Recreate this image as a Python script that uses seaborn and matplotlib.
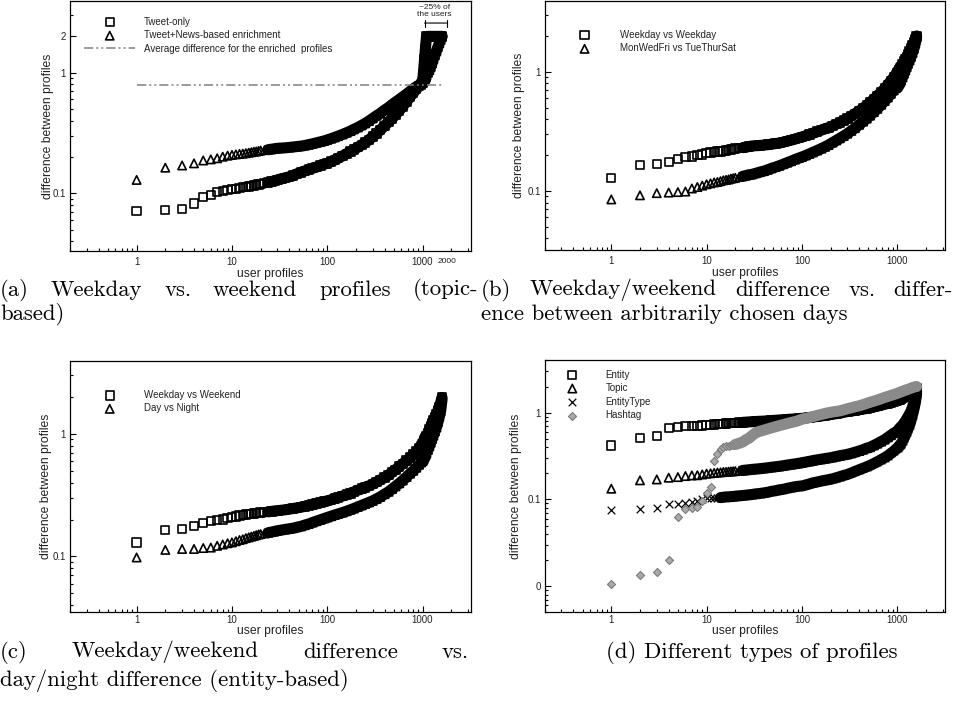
import matplotlib
matplotlib.use("Agg")
import matplotlib.pyplot as plt
from matplotlib.ticker import LogLocator, FixedLocator, FixedFormatter, NullFormatter
import seaborn as sns

# user rank (x) shared by every series
RANKS = [1, 2, 3, 4, 5, 6, 7, 8, 9, 10,
         11, 12, 13, 14, 15, 16, 17, 18, 19, 20,
         22, 24, 26, 28, 30, 33, 36, 40, 44, 48,
         53, 58, 64, 70, 77, 85, 93, 100, 110, 120,
         130, 145, 160, 175, 190, 210, 230, 250, 275, 300,
         330, 360, 400, 440, 480, 520, 570, 620, 680, 740,
         800, 860, 920, 970, 1000, 1010, 1020, 1030, 1040, 1050,
         1060, 1070, 1080, 1090, 1100, 1140, 1180, 1220, 1260, 1300,
         1350, 1400, 1450, 1500, 1550, 1600]

# (a) topic-based weekday vs weekend
TWEET_ONLY = [0.071, 0.073, 0.074, 0.082, 0.093, 0.097, 0.102, 0.105, 0.107, 0.108,
              0.109, 0.110, 0.112, 0.113, 0.114, 0.115, 0.116, 0.117, 0.118, 0.119,
              0.121, 0.123, 0.125, 0.127, 0.129, 0.132, 0.134, 0.137, 0.140, 0.145,
              0.149, 0.153, 0.157, 0.161, 0.165, 0.170, 0.174, 0.177, 0.183, 0.189,
              0.195, 0.204, 0.213, 0.222, 0.230, 0.241, 0.252, 0.263, 0.278, 0.295,
              0.314, 0.335, 0.362, 0.390, 0.418, 0.447, 0.485, 0.525, 0.577, 0.630,
              0.680, 0.730, 0.775, 0.800, 0.830, 0.90, 0.98, 1.08, 1.18, 1.30,
              1.42, 1.56, 1.70, 1.85, 2.0, 2.0, 2.0, 2.0, 2.0, 2.0,
              2.0, 2.0, 2.0, 2.0, 2.0, 2.0]
ENRICHED = [0.129, 0.163, 0.170, 0.177, 0.187, 0.191, 0.195, 0.201, 0.205, 0.208,
            0.210, 0.212, 0.213, 0.215, 0.217, 0.219, 0.221, 0.222, 0.224, 0.226,
            0.228, 0.230, 0.232, 0.234, 0.236, 0.237, 0.238, 0.240, 0.242, 0.244,
            0.246, 0.249, 0.253, 0.257, 0.262, 0.267, 0.272, 0.277, 0.284, 0.291,
            0.298, 0.308, 0.318, 0.328, 0.339, 0.352, 0.366, 0.380, 0.398, 0.418,
            0.440, 0.460, 0.490, 0.515, 0.545, 0.570, 0.600, 0.630, 0.665, 0.700,
            0.735, 0.765, 0.790, 0.810, 0.830, 0.840, 0.850, 0.860, 0.870, 0.880,
            0.890, 0.900, 0.915, 0.930, 0.950, 1.00, 1.05, 1.12, 1.20, 1.30,
            1.40, 1.52, 1.64, 1.76, 1.88, 2.0]
AVG_ENRICHED = 0.79
BRACKET_SPAN = [1050, 1790]

# (b) weekday/weekend vs arbitrary days
WEEKDAY_WEEKDAY = [0.129, 0.165, 0.169, 0.175, 0.185, 0.193, 0.195, 0.200, 0.202, 0.209,
                   0.210, 0.212, 0.214, 0.215, 0.217, 0.219, 0.221, 0.223, 0.225, 0.227,
                   0.229, 0.231, 0.234, 0.236, 0.239, 0.240, 0.241, 0.243, 0.245, 0.247,
                   0.250, 0.253, 0.257, 0.262, 0.267, 0.273, 0.279, 0.284, 0.291, 0.298,
                   0.305, 0.315, 0.324, 0.333, 0.340, 0.352, 0.364, 0.376, 0.390, 0.405,
                   0.425, 0.445, 0.470, 0.495, 0.525, 0.555, 0.590, 0.630, 0.675, 0.725,
                   0.780, 0.840, 0.900, 0.940, 0.970, 0.980, 0.990, 1.00, 1.02, 1.03,
                   1.04, 1.06, 1.07, 1.09, 1.10, 1.16, 1.22, 1.28, 1.34, 1.40,
                   1.48, 1.57, 1.66, 1.76, 1.87, 2.0]
MON_WED_FRI = [0.085, 0.092, 0.096, 0.097, 0.098, 0.099, 0.105, 0.108, 0.111, 0.114,
               0.116, 0.118, 0.119, 0.121, 0.123, 0.124, 0.125, 0.127, 0.128, 0.129,
               0.131, 0.133, 0.135, 0.137, 0.138, 0.141, 0.144, 0.147, 0.151, 0.155,
               0.159, 0.163, 0.168, 0.173, 0.178, 0.184, 0.189, 0.193, 0.199, 0.205,
               0.211, 0.219, 0.227, 0.235, 0.243, 0.255, 0.266, 0.277, 0.290, 0.303,
               0.320, 0.337, 0.360, 0.383, 0.406, 0.430, 0.460, 0.490, 0.530, 0.570,
               0.610, 0.655, 0.700, 0.730, 0.748, 0.760, 0.770, 0.780, 0.790, 0.800,
               0.810, 0.820, 0.830, 0.845, 0.855, 0.900, 0.970, 1.03, 1.10, 1.17,
               1.25, 1.34, 1.45, 1.57, 1.73, 1.95]

# (c) weekday/weekend vs day/night (entity-based)
WEEKDAY_WEEKEND = [0.130, 0.164, 0.167, 0.178, 0.187, 0.194, 0.198, 0.200, 0.205, 0.210,
                   0.212, 0.215, 0.217, 0.220, 0.222, 0.223, 0.224, 0.226, 0.227, 0.228,
                   0.230, 0.231, 0.233, 0.235, 0.236, 0.238, 0.240, 0.243, 0.246, 0.249,
                   0.252, 0.256, 0.260, 0.265, 0.270, 0.275, 0.280, 0.284, 0.290, 0.296,
                   0.302, 0.311, 0.319, 0.327, 0.336, 0.347, 0.357, 0.366, 0.377, 0.389,
                   0.405, 0.420, 0.440, 0.460, 0.487, 0.510, 0.540, 0.570, 0.605, 0.640,
                   0.680, 0.720, 0.765, 0.800, 0.820, 0.830, 0.845, 0.860, 0.870, 0.885,
                   0.900, 0.915, 0.930, 0.945, 0.960, 1.02, 1.09, 1.16, 1.22, 1.29,
                   1.37, 1.45, 1.55, 1.66, 1.80, 1.98]
DAY_NIGHT = [0.098, 0.113, 0.115, 0.115, 0.117, 0.118, 0.122, 0.125, 0.128, 0.130,
             0.133, 0.136, 0.138, 0.141, 0.143, 0.145, 0.147, 0.149, 0.151, 0.152,
             0.154, 0.156, 0.158, 0.160, 0.162, 0.164, 0.166, 0.168, 0.170, 0.173,
             0.176, 0.180, 0.184, 0.189, 0.194, 0.199, 0.204, 0.208, 0.213, 0.218,
             0.222, 0.228, 0.234, 0.240, 0.246, 0.254, 0.261, 0.268, 0.276, 0.284,
             0.295, 0.306, 0.322, 0.337, 0.355, 0.373, 0.395, 0.417, 0.445, 0.474,
             0.500, 0.530, 0.560, 0.585, 0.600, 0.610, 0.620, 0.630, 0.640, 0.650,
             0.660, 0.670, 0.680, 0.690, 0.700, 0.740, 0.795, 0.850, 0.910, 0.970,
             1.05, 1.13, 1.25, 1.38, 1.54, 1.90]

# (d) different profile types
ENTITY = [0.42, 0.515, 0.54, 0.67, 0.68, 0.70, 0.70, 0.705, 0.714, 0.72,
          0.725, 0.73, 0.735, 0.74, 0.746, 0.75, 0.755, 0.76, 0.763, 0.767,
          0.77, 0.774, 0.778, 0.783, 0.787, 0.792, 0.796, 0.80, 0.806, 0.812,
          0.818, 0.824, 0.83, 0.836, 0.842, 0.848, 0.854, 0.86, 0.87, 0.88,
          0.89, 0.905, 0.918, 0.93, 0.945, 0.96, 0.975, 0.99, 1.01, 1.03,
          1.045, 1.06, 1.08, 1.10, 1.12, 1.14, 1.165, 1.19, 1.22, 1.25,
          1.28, 1.31, 1.34, 1.37, 1.38, 1.39, 1.40, 1.40, 1.41, 1.42,
          1.42, 1.43, 1.44, 1.44, 1.45, 1.48, 1.51, 1.54, 1.57, 1.60,
          1.64, 1.68, 1.72, 1.77, 1.83, 1.92]
TOPIC = [0.133, 0.166, 0.170, 0.178, 0.181, 0.186, 0.189, 0.190, 0.194, 0.198,
         0.200, 0.202, 0.204, 0.205, 0.207, 0.208, 0.209, 0.210, 0.211, 0.212,
         0.214, 0.216, 0.218, 0.220, 0.222, 0.224, 0.226, 0.229, 0.232, 0.235,
         0.238, 0.241, 0.245, 0.249, 0.253, 0.257, 0.261, 0.265, 0.270, 0.275,
         0.280, 0.286, 0.291, 0.296, 0.300, 0.306, 0.313, 0.319, 0.325, 0.331,
         0.340, 0.350, 0.362, 0.375, 0.390, 0.400, 0.420, 0.440, 0.465, 0.490,
         0.520, 0.550, 0.580, 0.600, 0.614, 0.620, 0.630, 0.640, 0.645, 0.650,
         0.660, 0.670, 0.680, 0.685, 0.690, 0.720, 0.760, 0.800, 0.850, 0.900,
         0.970, 1.05, 1.17, 1.30, 1.45, 1.75]
ENTITY_TYPE = [0.075, 0.078, 0.080, 0.089, 0.089, 0.091, 0.094, 0.096, 0.100, 0.103,
               0.104, 0.104, 0.105, 0.105, 0.106, 0.107, 0.107, 0.108, 0.108, 0.109,
               0.110, 0.111, 0.112, 0.113, 0.114, 0.116, 0.117, 0.119, 0.121, 0.124,
               0.126, 0.129, 0.131, 0.134, 0.137, 0.140, 0.142, 0.143, 0.147, 0.151,
               0.155, 0.159, 0.163, 0.166, 0.169, 0.173, 0.178, 0.183, 0.189, 0.194,
               0.202, 0.210, 0.220, 0.229, 0.238, 0.247, 0.260, 0.272, 0.288, 0.303,
               0.320, 0.340, 0.360, 0.380, 0.390, 0.395, 0.400, 0.405, 0.410, 0.415,
               0.420, 0.425, 0.430, 0.435, 0.440, 0.470, 0.510, 0.550, 0.600, 0.650,
               0.720, 0.820, 0.950, 1.10, 1.30, 1.65]
HASHTAG = [0.0105, 0.0136, 0.0146, 0.020, 0.0625, 0.0767, 0.080, 0.0816, 0.0957, 0.119,
           0.139, 0.277, 0.33, 0.377, 0.40, 0.41, 0.415, 0.42, 0.425, 0.43,
           0.445, 0.46, 0.49, 0.51, 0.545, 0.59, 0.61, 0.63, 0.65, 0.67,
           0.69, 0.71, 0.73, 0.75, 0.77, 0.79, 0.815, 0.84, 0.86, 0.88,
           0.90, 0.93, 0.955, 0.98, 1.0, 1.02, 1.035, 1.05, 1.08, 1.11,
           1.14, 1.17, 1.20, 1.24, 1.28, 1.32, 1.36, 1.40, 1.45, 1.50,
           1.54, 1.58, 1.62, 1.65, 1.67, 1.68, 1.685, 1.69, 1.70, 1.705,
           1.71, 1.72, 1.73, 1.735, 1.74, 1.77, 1.79, 1.82, 1.84, 1.86,
           1.89, 1.92, 1.95, 1.97, 1.99, 2.0]

W, H = 955, 701
TEXT_COLOR = "#222222"

sns.set_style("ticks")
plt.rcParams["font.family"] = ["Liberation Sans", "DejaVu Sans"]
plt.rcParams["axes.linewidth"] = 0.9


def add_axes(fig, left, top, right, bottom):
    return fig.add_axes([left / W, 1 - bottom / H, (right - left) / W, (bottom - top) / H])


def dots(ax, values, marker, label, band_from=24, size=36, face="none", edge="black",
         lw=1.2, band_color="black"):
    # past the first ranks the markers overlap into a solid band
    i0 = RANKS.index(band_from)
    sns.lineplot(x=RANKS[i0:], y=values[i0:], color=band_color, linewidth=8,
                 solid_joinstyle="round", solid_capstyle="round", ax=ax, legend=False)
    if marker == "x":
        sns.scatterplot(x=RANKS, y=values, marker="x", s=size, color=edge,
                        linewidth=lw, label=label, ax=ax)
    else:
        sns.scatterplot(x=RANKS, y=values, marker=marker, s=size, color=edge,
                        facecolor=face, edgecolor=edge, linewidth=lw, label=label, ax=ax)


def style_axes(ax, ylim, yticks, ylabels, xpad, ylab_x, xlab_y):
    ax.set_xscale("log")
    ax.set_yscale("log")
    ax.set_xlim(0.2, 3200)
    ax.set_ylim(*ylim)
    ax.xaxis.set_major_locator(FixedLocator([1, 10, 100, 1000]))
    ax.xaxis.set_major_formatter(FixedFormatter(["1", "10", "100", "1000"]))
    ax.xaxis.set_minor_locator(LogLocator(base=10, subs=range(2, 10), numticks=20))
    ax.xaxis.set_minor_formatter(NullFormatter())
    ax.yaxis.set_major_locator(FixedLocator(yticks))
    ax.yaxis.set_major_formatter(FixedFormatter(ylabels))
    ax.yaxis.set_minor_locator(LogLocator(base=10, subs=range(2, 10), numticks=20))
    ax.yaxis.set_minor_formatter(NullFormatter())
    ax.tick_params(which="both", direction="in", top=False, right=False,
                   color="black", labelcolor=TEXT_COLOR, labelsize=7, width=0.8)
    ax.tick_params(which="major", length=4)
    ax.tick_params(which="minor", length=2.2)
    ax.tick_params(axis="x", pad=xpad)
    ax.tick_params(axis="y", pad=3)
    for sp in ax.spines.values():
        sp.set_visible(True)
        sp.set_color("black")
    ax.set_xlabel("user profiles", fontsize=8.7, color=TEXT_COLOR)
    ax.set_ylabel("difference between profiles", fontsize=8.7, color=TEXT_COLOR)
    ax.xaxis.set_label_coords(0.5, xlab_y)
    ax.yaxis.set_label_coords(ylab_x, 0.5)


def legend(ax, x, y, hl):
    ax.legend(loc="upper left", bbox_to_anchor=(x, y), frameon=False, fontsize=7,
              handlelength=hl, handletextpad=0.9, labelspacing=0.36, borderpad=0,
              borderaxespad=0, scatterpoints=1, markerscale=1.0, labelcolor=TEXT_COLOR)


fig = plt.figure(figsize=(W / 100, H / 100), dpi=100)

# (a)
ax = add_axes(fig, 70, 1, 470.7, 250.7)
dots(ax, TWEET_ONLY, "s", "Tweet-only")
dots(ax, ENRICHED, "^", "Tweet+News-based enrichment")
ax.plot([RANKS[0], RANKS[-1]], [AVG_ENRICHED, AVG_ENRICHED], color="#808080", lw=1.1,
        linestyle=(0, (6, 2, 1.3, 2, 1.3, 2)), label="Average difference for the enriched  profiles")
style_axes(ax, (0.0334, 3.93), [0.1, 1, 2], ["0.1", "1", "2"], 4.2, -0.041, -0.07)
legend(ax, 0.036, 0.937, 5.2)
ax.annotate("", xy=(BRACKET_SPAN[0], 2.58), xytext=(BRACKET_SPAN[1], 2.58),
            arrowprops=dict(arrowstyle="|-|, widthA=0.25, widthB=0.25", lw=0.8,
                            color="black", shrinkA=0, shrinkB=0))
ax.text(1340, 3.25, "~25% of\nthe users", ha="center", va="center", fontsize=6,
        color=TEXT_COLOR, linespacing=1.15)
ax.text(1800, -0.045, "2000", transform=ax.get_xaxis_transform(), ha="center",
        va="center", fontsize=6, color=TEXT_COLOR)

# (b)
ax = add_axes(fig, 544.7, 1, 945.3, 250)
dots(ax, WEEKDAY_WEEKDAY, "s", "Weekday vs Weekday")
dots(ax, MON_WED_FRI, "^", "MonWedFri vs TueThurSat")
style_axes(ax, (0.032, 3.93), [0.1, 1], ["0.1", "1"], 4.2, -0.05, -0.07)
legend(ax, 0.034, 0.884, 5.4)

# (c)
ax = add_axes(fig, 70, 360.7, 470.7, 612.3)
dots(ax, WEEKDAY_WEEKEND, "s", "Weekday vs Weekend")
dots(ax, DAY_NIGHT, "^", "Day vs Night")
style_axes(ax, (0.035, 3.95), [0.1, 1], ["0.1", "1"], 2.0, -0.046, -0.05)
legend(ax, 0.036, 0.884, 5.2)

# (d)
ax = add_axes(fig, 544.7, 360, 945.3, 612.3)
dots(ax, ENTITY, "s", "Entity")
dots(ax, TOPIC, "^", "Topic")
dots(ax, ENTITY_TYPE, "x", "EntityType", band_from=14, size=30, lw=0.9)
dots(ax, HASHTAG, "D", "Hashtag", band_from=20, size=17, face="#a9a9a9", edge="#7c7c7c",
     lw=0.8, band_color="#8a8a8a")
style_axes(ax, (0.005, 4.05), [0.01, 0.1, 1], ["0", "0.1", "1"], 2.0, -0.057, -0.05)
legend(ax, 0.0074, 0.962, 5.07)

# captions below each panel (LaTeX-like serif)
CAPTION_FONT = dict(family="cmr10", fontsize=16.4, va="center", ha="left", color="black")


def caption_line(text, x0, y, x1=None):
    if x1 is None:
        fig.text(x0 / W, 1 - y / H, text, **CAPTION_FONT)
        return
    words = text.split(" ")
    r = fig.canvas.get_renderer()
    parts = [fig.text(0, 1 - y / H, w, **CAPTION_FONT) for w in words]
    widths = [p.get_window_extent(r).width for p in parts]
    gap = (x1 - x0 - sum(widths)) / (len(words) - 1)
    x = x0
    for p, w in zip(parts, widths):
        p.set_x(x / W)
        x += w + gap


caption_line("(a) Weekday vs. weekend profiles (topic-", 0, 290, 478)
caption_line("based)", 0, 314)
caption_line("(b) Weekday/weekend difference vs. differ-", 481, 290, 953)
caption_line("ence between arbitrarily chosen days", 481, 314)
caption_line("(c) Weekday/weekend difference vs.", 0, 652, 469)
caption_line("day/night difference (entity-based)", 0, 680)
caption_line("(d) Different types of profiles", 606, 652)

fig.savefig("out.png", dpi=100)
plt.close(fig)
